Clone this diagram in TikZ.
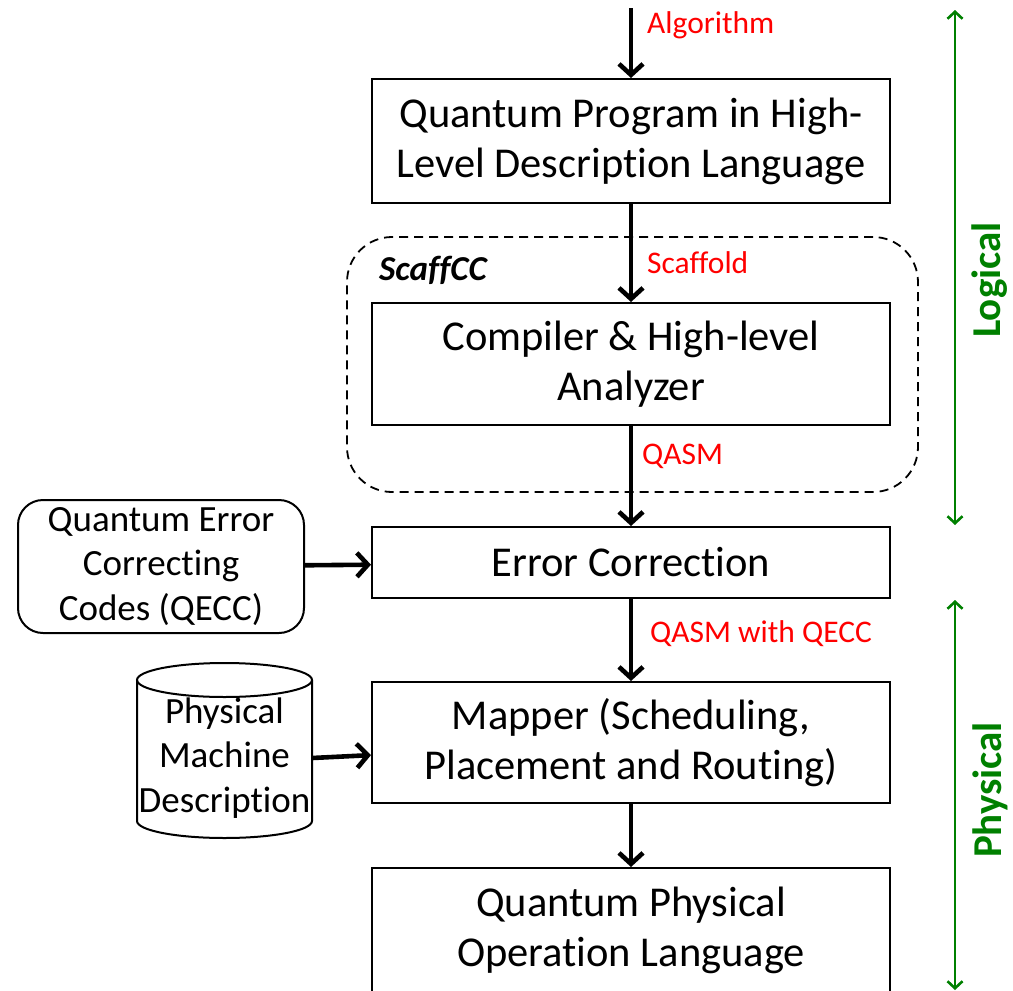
\documentclass[tikz,border=0pt]{standalone}
\usepackage{fontspec}
\setmainfont{Carlito}[Ligatures=NoCommon]
\usetikzlibrary{arrows.meta}
\definecolor{flowred}{RGB}{255,0,0}
\definecolor{levelgreen}{RGB}{0,128,0}
\tikzset{
  stage/.style={draw, line width=2pt, minimum width=518pt, inner sep=0pt, align=center,
    font=\fontsize{42.5}{50}\selectfont},
  side/.style={inner sep=0pt, align=center, font=\fontsize{37}{44.5}\selectfont},
  flow/.style={line width=4.6pt, -{Straight Barb[length=11pt,width=24pt]}},
  feed/.style={line width=4.6pt, -{Straight Barb[length=11pt,width=24pt]}},
  tag/.style={text=flowred, inner sep=0pt, anchor=base west, font=\fontsize{31.5}{36}\selectfont},
  level/.style={draw=levelgreen, line width=2.6pt, {Straight Barb[length=7pt,width=15pt]}-{Straight Barb[length=7pt,width=15pt]}},
  leveltag/.style={text=levelgreen, rotate=90, inner sep=0pt, font=\fontsize{41}{46}\selectfont\bfseries}
}
\begin{document}
\begin{tikzpicture}[x=1pt,y=-1pt]
\useasboundingbox (0,0) rectangle (1013,991);

% compiler front end frame
\node[draw, dashed, dash pattern=on 9pt off 6pt, line width=1.8pt, rounded corners=45pt,
  minimum width=571pt, minimum height=255pt] (scaffcc) at (632.5,364.5) {};
\node[inner sep=0pt, anchor=base west, font=\fontsize{35}{40}\selectfont\bfseries\itshape] (scaffname) at (379,280) {ScaffCC};

% main tool chain
\node[stage, minimum height=124pt] (prog) at (631,141) {Quantum Program in High-\\Level Description Language};
\node[stage, minimum height=122pt] (comp) at (631,364) {Compiler \& High-level\\Analyzer};
\node[stage, minimum height=71pt] (ecc) at (631,562.5) {Error Correction};
\node[stage, minimum height=121pt] (mapper) at (631,742.5) {Mapper (Scheduling,\\Placement and Routing)};
\node[stage, minimum height=124pt] (qpol) at (631,930) {Quantum Physical\\Operation Language};

\coordinate (start) at (631,8);
\draw[flow] (start) -- (prog);
\draw[flow] (prog) -- (comp);
\draw[flow] (comp) -- (ecc);
\draw[flow] (ecc) -- (mapper);
\draw[flow] (mapper) -- (qpol);

% labels on the flow
\node[tag] (lalg) at (647,33) {Algorithm};
\node[tag] (lscaf) at (647,273) {Scaffold};
\node[tag] (lqasm) at (642,464) {QASM};
\node[tag] (lqecc) at (650,642) {QASM with QECC};

% side inputs
\node[side, draw, line width=2pt, rounded corners=25pt, minimum width=286pt, minimum height=133pt] (codes) at (161,566.5)
  {Quantum Error\\Correcting\\Codes (QECC)};
\node[side, minimum width=175pt, minimum height=120pt] (machine) at (224.5,758) {Physical\\Machine\\Description};
\draw[line width=2pt] (137,680) -- (137,821) arc[start angle=180, end angle=360, x radius=87.5pt, y radius=17pt]
  -- (312,680);
\draw[line width=2pt] (224.5,680) ellipse[x radius=87.5pt, y radius=17pt];

\draw[feed] (codes) -- (ecc);
\draw[feed] (machine.east) -- (mapper);

% abstraction levels
\coordinate (lt) at (955,10);
\coordinate (lb) at (955,525);
\coordinate (pt) at (955,600);
\coordinate (pb) at (955,990);
\draw[level] (lt) -- (lb);
\draw[level] (pt) -- (pb);
\node[leveltag] (logical) at (990,280) {Logical};
\node[leveltag] (physical) at (990,790) {Physical};
\end{tikzpicture}
\end{document}
